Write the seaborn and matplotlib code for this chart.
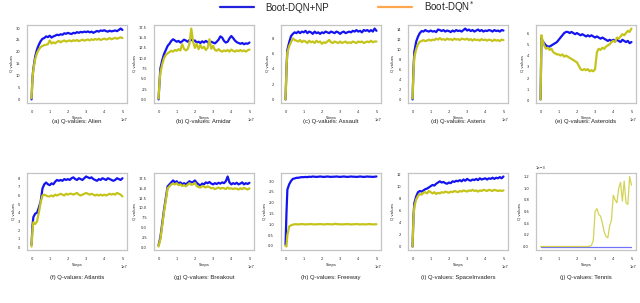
import matplotlib
matplotlib.use("Agg")
import matplotlib.pyplot as plt
from matplotlib.lines import Line2D
from matplotlib.ticker import MultipleLocator
import seaborn as sns
import numpy as np

# steps in units of 1e7
steps = [0, 0.05, 0.1, 0.2, 0.3, 0.4, 0.5, 0.6, 0.7, 0.8, 0.9, 1.0,
         1.1, 1.2, 1.3, 1.4, 1.5, 1.6, 1.7, 1.8, 1.9, 2.0,
         2.1, 2.2, 2.3, 2.4, 2.5, 2.6, 2.7, 2.8, 2.9, 3.0,
         3.1, 3.2, 3.3, 3.4, 3.5, 3.6, 3.7, 3.8, 3.9, 4.0,
         4.1, 4.2, 4.3, 4.4, 4.5, 4.6, 4.7, 4.8, 4.9, 5.0]

games = ["Alien", "Amidar", "Assault", "Asterix", "Asteroids",
         "Atlantis", "Breakout", "Freeway", "SpaceInvaders", "Tennis"]
letters = ["a", "b", "c", "d", "e", "f", "g", "h", "i", "j"]
ytick_steps = [5, 2.5, 2, 2, 1, 1, 2.5, 0.5, 2, 0.2e-3]

alien_np = [0, 9, 13, 18, 21, 23, 24.5, 25.5, 25.8, 26.5, 26.2, 26.8,
            26.0, 26.5, 26.8, 27.2, 27.0, 27.4, 27.2, 27.8, 27.6, 28.0,
            27.7, 27.5, 28.0, 27.8, 28.3, 28.0, 28.4, 28.2, 28.5, 28.3,
            28.6, 28.2, 28.5, 28.0, 28.4, 28.8, 28.5, 29.0, 28.8, 29.1,
            28.7, 28.5, 28.9, 28.6, 28.8, 29.0, 28.7, 29.2, 29.8, 29.2]
alien_boot = [0.5, 9, 12.5, 17, 19.5, 21, 22, 22.5, 22.8, 23.0, 23.2, 24.8,
              23.5, 24.0, 23.6, 24.2, 24.6, 24.0, 24.5, 24.8, 24.3, 24.6,
              24.8, 24.4, 24.9, 24.6, 25.0, 24.5, 24.8, 25.1, 24.7, 25.0,
              25.2, 24.8, 25.3, 25.0, 25.4, 25.1, 25.5, 25.0, 25.3, 25.6,
              25.2, 25.4, 25.8, 25.3, 25.6, 25.9, 25.5, 25.8, 26.1, 25.8]

amidar_np = [0, 4, 7.5, 9.5, 11, 12, 13, 13.5, 14.2, 14.6, 14.3, 14.0,
             14.2, 13.8, 14.1, 14.5, 14.3, 14.0, 14.4, 14.5, 14.2, 14.3,
             13.8, 14.0, 13.7, 14.1, 13.8, 14.2, 13.9, 13.6, 14.0, 13.8,
             13.6, 14.0, 14.5, 15.3, 15.0, 14.2, 13.8, 14.0, 14.8, 15.4,
             14.9, 14.3, 13.9, 13.7, 13.5, 13.7, 13.4, 13.6, 13.5, 13.8]
amidar_boot = [0.2, 4, 6.5, 8.5, 10, 10.8, 11.2, 11.5, 11.8, 11.6, 12.0, 11.8,
               12.2, 11.9, 13.4, 12.3, 11.9, 12.2, 13.5, 17.2, 14.0, 12.5,
               13.5, 12.2, 13.2, 12.4, 12.8, 12.0, 12.5, 14.6, 12.3, 13.0,
               12.0, 11.8, 12.2, 11.8, 11.6, 11.9, 11.7, 12.0, 11.6, 12.1,
               11.8, 11.6, 11.9, 11.7, 12.0, 11.7, 11.9, 11.6, 11.9, 12.1]

assault_np = [0, 4, 6.5, 7.5, 8.3, 8.6, 8.8, 8.7, 8.9, 8.7, 8.9, 8.8,
              9.0, 8.7, 8.9, 8.8, 8.6, 8.9, 8.7, 8.8, 8.6, 8.8,
              8.7, 8.9, 8.8, 8.7, 8.9, 8.8, 8.7, 8.9, 8.8, 8.6,
              8.8, 8.9, 8.7, 8.8, 8.9, 8.8, 9.0, 8.9, 9.1, 8.9,
              9.0, 8.8, 9.1, 9.0, 9.1, 8.9, 9.1, 8.9, 9.3, 9.0]
assault_boot = [0, 4, 6.2, 7.0, 7.5, 8.0, 7.8, 7.7, 7.6, 7.8, 7.5, 7.7,
                7.6, 7.4, 7.7, 7.5, 7.6, 7.4, 7.7, 7.5, 7.6, 7.3,
                7.5, 7.4, 7.6, 7.8, 7.5, 7.4, 7.6, 7.5, 7.4, 7.6,
                7.4, 7.5, 7.6, 7.4, 7.5, 7.4, 7.6, 7.5, 7.4, 7.6,
                7.5, 7.6, 7.4, 7.5, 7.6, 7.5, 7.7, 7.5, 7.6, 7.6]

asterix_np = [0, 6, 9.5, 11.5, 12.5, 13.2, 13.6, 13.5, 13.8, 13.6, 13.5, 13.7,
              13.5, 13.6, 13.4, 13.9, 13.8, 13.6, 13.8, 13.5, 13.7, 13.6,
              13.4, 13.7, 13.5, 13.8, 13.6, 13.7, 13.5, 13.8, 14.1, 13.7,
              13.9, 13.6, 13.8, 13.5, 13.7, 13.9, 13.6, 13.8, 13.5, 13.7,
              13.6, 13.8, 13.7, 13.5, 13.8, 13.6, 13.7, 13.5, 13.8, 13.7]
asterix_boot = [0.2, 5.5, 8.5, 10.0, 11.0, 11.5, 11.6, 11.8, 11.6, 11.7, 11.9, 11.7,
                11.9, 11.8, 12.1, 11.9, 12.2, 11.9, 12.0, 11.8, 12.1, 11.9,
                12.0, 11.8, 12.1, 11.9, 12.0, 11.8, 12.1, 12.0, 11.9, 12.1,
                11.8, 12.0, 11.7, 12.0, 11.8, 11.9, 11.7, 12.0, 11.8, 11.9,
                11.7, 11.9, 11.8, 11.6, 11.9, 11.7, 11.8, 11.6, 11.9, 11.8]

asteroids_np = [0.1, 5.6, 5.3, 5.1, 4.9, 4.8, 4.8, 4.9, 5.0, 5.1, 5.2, 5.4,
                5.6, 5.8, 6.0, 6.1, 6.1, 6.0, 6.1, 6.0, 5.9, 6.0,
                5.9, 5.8, 5.9, 5.8, 5.7, 5.8, 5.7, 5.8, 5.7, 5.6,
                5.7, 5.6, 5.5, 5.6, 5.5, 5.4, 5.3, 5.4, 5.3, 5.4,
                5.3, 5.4, 5.3, 5.2, 5.4, 5.3, 5.2, 5.3, 5.1, 5.2]
asteroids_boot = [0.1, 5.8, 5.4, 4.9, 4.6, 4.7, 4.5, 4.6, 4.3, 4.2, 4.1, 4.1,
                  4.0, 4.1, 3.9, 4.0, 3.9, 3.8, 3.7, 3.6, 3.5, 3.4,
                  3.1, 2.8, 2.7, 2.8, 2.7, 2.8, 2.6, 2.7, 2.6, 2.8,
                  4.3, 4.6, 4.5, 4.7, 4.6, 4.8, 4.9, 5.0, 5.2, 5.3,
                  5.2, 5.6, 5.5, 5.7, 5.9, 5.8, 6.0, 6.2, 6.1, 6.4]

atlantis_np = [0.3, 2.5, 3.5, 3.9, 4.0, 4.6, 5.3, 6.8, 7.3, 7.5, 7.3, 7.2,
               7.4, 7.3, 7.6, 7.8, 7.7, 7.8, 7.7, 7.9, 7.8, 7.9,
               7.8, 8.0, 8.1, 7.9, 7.8, 8.0, 7.9, 7.8, 8.0, 8.2,
               8.1, 8.0, 8.1, 7.9, 7.8, 7.7, 7.9, 7.8, 8.0, 7.9,
               7.8, 8.0, 7.9, 7.8, 7.7, 7.8, 8.0, 7.9, 7.8, 8.0]
atlantis_boot = [0.1, 2.0, 2.9, 2.7, 3.0, 4.0, 5.2, 6.0, 6.1, 6.0, 5.9, 5.9,
                 6.0, 5.9, 6.1, 6.0, 6.1, 6.2, 6.1, 6.0, 6.2, 6.1,
                 6.2, 6.2, 6.1, 6.2, 6.3, 6.1, 6.0, 6.1, 6.2, 6.3,
                 6.2, 6.1, 6.2, 6.1, 6.0, 6.1, 6.0, 6.1, 6.0, 6.1,
                 6.0, 6.1, 6.2, 6.1, 6.2, 6.1, 6.3, 6.2, 6.1, 5.9]

breakout_np = [0.5, 1.5, 2.5, 6.0, 9.5, 12.5, 15.5, 16.0, 16.5, 17.0, 16.5, 16.8,
               16.2, 16.5, 16.0, 16.3, 16.0, 16.4, 16.8, 16.5, 16.6, 17.0,
               16.4, 16.0, 15.7, 16.2, 16.0, 16.5, 16.3, 16.6, 16.2, 16.0,
               16.3, 16.1, 16.4, 16.2, 16.5, 16.3, 16.8, 18.0, 16.5, 16.0,
               16.3, 16.1, 16.4, 16.0, 16.2, 16.5, 16.0, 16.3, 16.1, 16.4]
breakout_boot = [0.2, 1.2, 2.0, 5.5, 9.0, 12.0, 15.0, 15.5, 16.0, 16.2, 16.0, 16.3,
                 15.8, 16.0, 15.6, 15.8, 15.5, 15.9, 16.3, 15.9, 16.0, 16.4,
                 15.6, 15.3, 15.2, 15.6, 15.4, 15.2, 15.5, 15.3, 15.0, 15.1,
                 14.8, 15.0, 15.2, 14.9, 15.1, 15.0, 14.8, 15.2, 14.9, 15.0,
                 14.8, 15.0, 14.9, 14.7, 15.0, 14.8, 15.1, 14.9, 14.7, 15.0]

freeway_np = [0.05, 1.5, 2.6, 2.85, 3.0, 3.1, 3.12, 3.15, 3.15, 3.17, 3.18, 3.18,
              3.19, 3.18, 3.2, 3.19, 3.21, 3.2, 3.19, 3.2, 3.21, 3.2,
              3.19, 3.2, 3.21, 3.2, 3.19, 3.2, 3.2, 3.21, 3.2, 3.19,
              3.2, 3.21, 3.2, 3.19, 3.2, 3.21, 3.2, 3.2, 3.19, 3.2,
              3.21, 3.2, 3.19, 3.2, 3.21, 3.2, 3.2, 3.19, 3.2, 3.21]
freeway_boot = [0.0, -0.03, 0.5, 0.9, 0.95, 0.98, 1.0, 1.0, 0.99, 1.0, 1.01, 1.0,
                0.99, 1.0, 1.0, 1.01, 1.0, 0.99, 1.0, 1.0, 1.01, 1.0,
                0.99, 1.0, 1.01, 1.0, 1.0, 0.99, 1.02, 1.01, 1.0, 1.0,
                0.99, 1.0, 1.0, 1.01, 1.0, 0.99, 1.0, 1.0, 1.01, 1.0,
                0.99, 1.0, 1.0, 0.99, 1.0, 1.01, 1.0, 0.99, 1.0, 1.0]

space_np = [0, 5, 7.2, 8.3, 9.0, 9.2, 9.1, 9.3, 9.5, 9.6, 9.8, 10.0,
            10.2, 10.1, 10.4, 10.6, 10.8, 10.6, 10.7, 10.5, 10.4, 10.6,
            10.5, 10.8, 10.7, 10.9, 10.8, 11.0, 10.8, 11.1, 10.9, 11.2,
            11.0, 10.9, 11.1, 11.0, 11.2, 11.0, 11.3, 11.1, 11.2, 11.3,
            11.1, 11.3, 11.2, 11.4, 11.2, 11.4, 11.3, 11.5, 11.3, 11.6]
space_boot = [0, 4.8, 6.6, 7.8, 8.4, 8.7, 8.6, 8.9, 9.0, 8.8, 9.2, 9.0,
              8.8, 9.0, 8.7, 8.9, 8.8, 9.0, 8.9, 9.1, 9.0, 8.9,
              9.1, 9.0, 9.2, 9.1, 9.0, 9.2, 9.1, 9.3, 9.2, 9.1,
              9.3, 9.2, 9.4, 9.2, 9.3, 9.1, 9.3, 9.2, 9.4, 9.3,
              9.2, 9.4, 9.3, 9.2, 9.4, 9.3, 9.2, 9.3, 9.2, 9.3]

# tennis values in units of 1e-3
tennis_np = [0, 0, 0, 0, 0, 0, 0, 0, 0, 0, 0, 0,
             0, 0, 0, 0, 0, 0, 0, 0, 0, 0,
             0, 0, 0, 0, 0, 0, 0, 0, 0, 0,
             0, 0, 0, 0, 0, 0, 0, 0, 0, 0,
             0, 0, 0, 0, 0, 0, 0, 0, 0, 0]
tennis_boot = [0, 0, 0, 0, 0, 0, 0, 0, 0, 0, 0, 0,
               0, 0, 0, 0, 0, 0, 0, 0, 0, 0,
               0, 0, 0, 0, 0, 0, 0.005, 0.02, 0.1, 0.6,
               0.65, 0.55, 0.52, 0.4, 0.25, 0.17, 0.15, 0.35, 0.45, 0.88,
               0.8, 0.75, 1.0, 1.1, 0.78, 1.12, 0.75, 0.72, 1.2, 1.05]

np_series = [alien_np, amidar_np, assault_np, asterix_np, asteroids_np,
             atlantis_np, breakout_np, freeway_np, space_np, tennis_np]
boot_series = [alien_boot, amidar_boot, assault_boot, asterix_boot, asteroids_boot,
               atlantis_boot, breakout_boot, freeway_boot, space_boot, tennis_boot]

BLUE = "#1414f0"
YELLOW = "#c4c41c"


def main():
    sns.set_style("white", {"axes.edgecolor": "#c4c4c4"})
    plt.rcParams["font.family"] = ["DejaVu Sans"]

    fig = plt.figure(figsize=(6.4, 3.03), dpi=100)
    x = np.array(steps) * 1e7

    lefts = [27, 154, 281, 408, 536]
    rows = [(25, 103), (173, 250)]
    caption_y = [122, 278]

    for i, game in enumerate(games):
        r, c = divmod(i, 5)
        top, bot = rows[r]
        ax = fig.add_axes([lefts[c] / 640, 1 - bot / 303, 100 / 640, (bot - top) / 303])
        y1 = np.array(np_series[i], dtype=float)
        y2 = np.array(boot_series[i], dtype=float)
        if game == "Tennis":
            y1 = y1 * 1e-3
            y2 = y2 * 1e-3
            sns.lineplot(x=x, y=y1, ax=ax, color=BLUE, linewidth=0.9, alpha=0.6)
            sns.lineplot(x=x, y=y2, ax=ax, color=YELLOW, linewidth=0.9, alpha=0.75)
        else:
            sns.lineplot(x=x, y=y1, ax=ax, color=BLUE, linewidth=1.6)
            sns.lineplot(x=x, y=y2, ax=ax, color=YELLOW, linewidth=1.6)

        ax.xaxis.set_major_locator(MultipleLocator(1e7))
        ax.yaxis.set_major_locator(MultipleLocator(ytick_steps[i]))
        if game == "Tennis":
            ax.ticklabel_format(axis="y", style="sci", scilimits=(0, 0))
        ax.tick_params(labelsize=2.6, pad=1.5)
        ax.xaxis.get_offset_text().set_fontsize(2.6)
        ax.yaxis.get_offset_text().set_fontsize(2.6)
        ax.set_xlabel("Steps", fontsize=2.8, labelpad=1.5)
        ax.set_ylabel("Q values", fontsize=2.8, labelpad=1.5)
        for sp in ax.spines.values():
            sp.set_linewidth(0.9)

        cx = (lefts[c] + 50) / 640
        fig.text(cx, 1 - caption_y[r] / 303, f"({letters[i]}) Q-values: {game}",
                 ha="center", va="center", fontsize=4.3, family="Liberation Sans",
                 color="#222222")

    handles = [Line2D([], [], color="#2222dd", linewidth=1.6),
               Line2D([], [], color="#ffa650", linewidth=1.6)]
    fig.legend(handles, ["Boot-DQN+NP", r"Boot-DQN$^{*}$"], loc="center",
               bbox_to_anchor=(0.542, 0.977), ncol=2, frameon=False,
               prop={"family": "Liberation Sans", "size": 7},
               handlelength=3.5, handletextpad=1.2, columnspacing=5.0)

    fig.savefig("out.png", dpi=100)


if __name__ == "__main__":
    main()
